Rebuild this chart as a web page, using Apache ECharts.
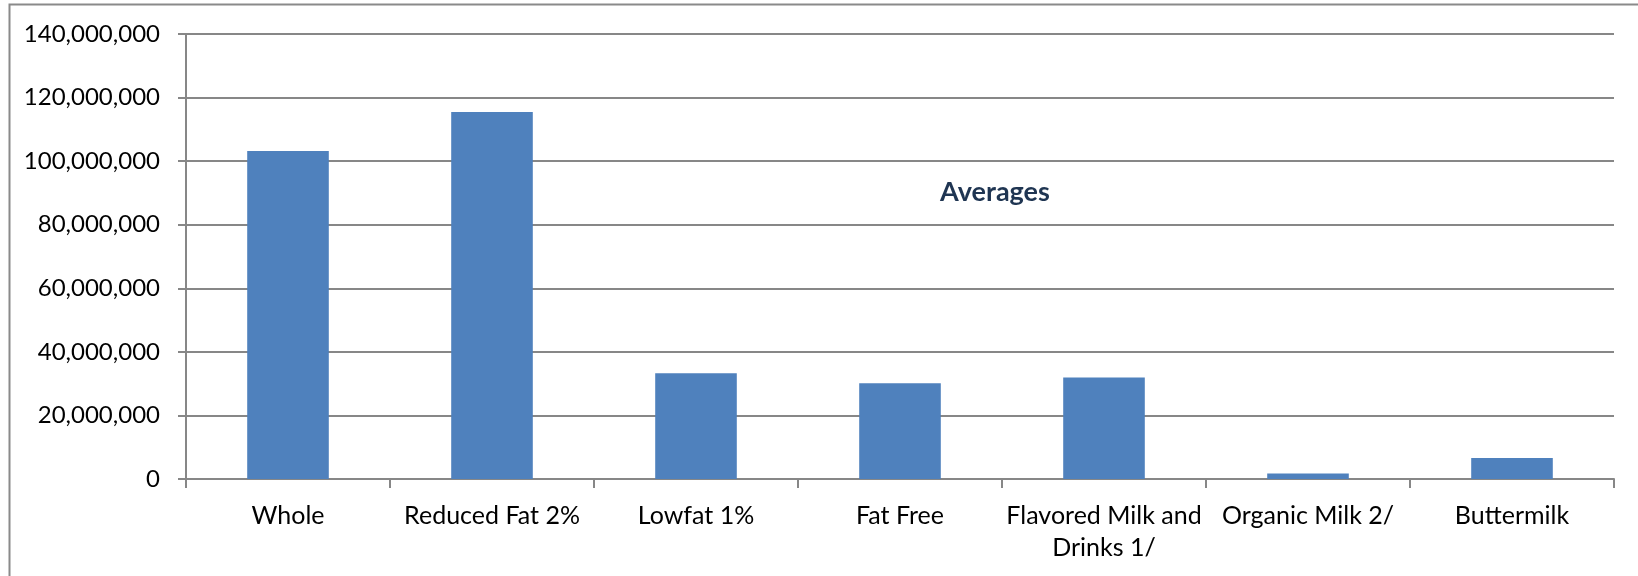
<!DOCTYPE html>
<html>
<head>
<meta charset="utf-8">
<script src="https://cdn.jsdelivr.net/npm/echarts@6/dist/echarts.min.js"></script>
<style>
html,body{margin:0;padding:0;background:#fff;}
#c{width:1638px;height:576px;}
</style>
</head>
<body>
<div id="c"></div>
<script>
const categories = ["Whole", "Reduced Fat 2%", "Lowfat 1%", "Fat Free", "Flavored Milk and\nDrinks 1/", "Organic Milk 2/", "Buttermilk"];
const averages = [103200000, 115500000, 33300000, 30100000, 31900000, 1700000, 6600000];
const titleText = "Averages";

const chart = echarts.init(document.getElementById('c'));
const fontFam = "Lato, 'Open Sans', sans-serif";
chart.setOption({
  animation: false,
  backgroundColor: '#ffffff',
  title: {
    text: titleText,
    left: 990, top: 174, textAlign: 'center',
    textStyle: {fontFamily: fontFam, fontSize: 27, fontWeight: 'bold', color: '#1F3552'}
  },
  graphic: [{
    type: 'rect', silent: true,
    shape: {x: 9.5, y: 4.5, width: 1700, height: 700},
    style: {fill: 'none', stroke: '#8a8a8a', lineWidth: 2}
  }],
  grid: {left: 186, right: 24, top: 34, bottom: 97, containLabel: false},
  xAxis: {
    type: 'category',
    data: categories,
    axisLine: {lineStyle: {color: '#878787', width: 2}},
    axisTick: {show: true, alignWithLabel: false, length: 9, lineStyle: {color: '#878787', width: 2}},
    axisLabel: {fontFamily: fontFam, fontSize: 25, color: '#000', margin: 21, lineHeight: 32, interval: 0}
  },
  yAxis: {
    type: 'value',
    min: 0, max: 140000000, interval: 20000000,
    axisLine: {show: true, lineStyle: {color: '#878787', width: 2}},
    axisTick: {show: true, length: 8, lineStyle: {color: '#878787', width: 2}},
    splitLine: {lineStyle: {color: '#878787', width: 2}},
    axisLabel: {
      fontFamily: fontFam, fontSize: 24, color: '#000', margin: 26,
      formatter: v => v.toLocaleString('en-US')
    }
  },
  series: [{
    type: 'bar',
    data: averages,
    barCategoryGap: '60%',
    itemStyle: {color: '#4F81BD'}
  }]
});
</script>
</body>
</html>
